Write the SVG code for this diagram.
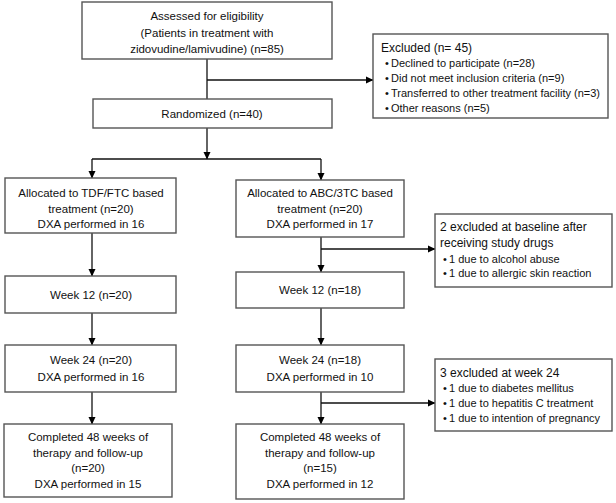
<svg xmlns="http://www.w3.org/2000/svg" width="616" height="503" viewBox="0 0 616 503">
<defs>
<marker id="ah" markerWidth="8" markerHeight="8" refX="7" refY="4" orient="auto" markerUnits="userSpaceOnUse">
<path d="M0,0.5 L7.5,4 L0,7.5 Z" fill="#000"/>
</marker>
<style>
.box{fill:#fff;stroke:#555;stroke-width:1.4}
.t{font-family:"Liberation Sans",Arial,sans-serif;font-size:11.5px;fill:#111;text-anchor:middle}
.h{font-family:"Liberation Sans",Arial,sans-serif;font-size:12px;fill:#111}
.b{font-family:"Liberation Sans",Arial,sans-serif;font-size:11px;fill:#111}
.c{stroke:#111;stroke-width:1.3;fill:none}
.a{marker-end:url(#ah)}
</style>
</defs>
<rect width="616" height="503" fill="#fff"/>
<g id="connectors">
<line class="c" x1="207" y1="59" x2="207" y2="99"/>
<line class="c a" x1="207" y1="80" x2="373" y2="80"/>
<line class="c a" x1="207" y1="128" x2="207" y2="159"/>
<line class="c" x1="92" y1="159" x2="321" y2="159"/>
<line class="c a" x1="92" y1="159" x2="92" y2="178"/>
<line class="c a" x1="321" y1="159" x2="321" y2="180"/>
<line class="c a" x1="92" y1="233" x2="92" y2="276"/>
<line class="c a" x1="92" y1="313" x2="92" y2="345"/>
<line class="c a" x1="92" y1="392" x2="92" y2="424"/>
<line class="c a" x1="321" y1="237" x2="321" y2="272"/>
<line class="c a" x1="321" y1="249" x2="435" y2="249"/>
<line class="c a" x1="321" y1="308" x2="321" y2="345"/>
<line class="c a" x1="321" y1="392" x2="321" y2="424"/>
<line class="c a" x1="321" y1="403" x2="435" y2="403"/>
</g>
<g id="assessed">
<rect class="box" x="82" y="2" width="250" height="57"/>
<text class="t" x="207" y="20">Assessed for eligibility</text>
<text class="t" x="207" y="36.5">(Patients in treatment with</text>
<text class="t" x="207" y="53">zidovudine/lamivudine) (n=85)</text>
</g>
<g id="excluded">
<rect class="box" x="373" y="34" width="235" height="84"/>
<text class="h" x="381" y="51.5">Excluded (n= 45)</text>
<text class="b" x="385" y="67">•</text><text class="b" x="391" y="67">Declined to participate (n=28)</text>
<text class="b" x="385" y="82">•</text><text class="b" x="391" y="82">Did not meet inclusion criteria (n=9)</text>
<text class="b" x="385" y="97">•</text><text class="b" x="391" y="97">Transferred to other treatment facility (n=3)</text>
<text class="b" x="385" y="112">•</text><text class="b" x="391" y="112">Other reasons (n=5)</text>
</g>
<g id="randomized">
<rect class="box" x="93" y="99" width="239" height="29"/>
<text class="t" x="212" y="117.5">Randomized (n=40)</text>
</g>
<g id="alloc-tdf">
<rect class="box" x="5" y="178" width="171" height="55"/>
<text class="t" x="91" y="197">Allocated to TDF/FTC based</text>
<text class="t" x="91" y="213">treatment (n=20)</text>
<text class="t" x="91" y="228">DXA performed in 16</text>
</g>
<g id="alloc-abc">
<rect class="box" x="236" y="180" width="168" height="57"/>
<text class="t" x="320" y="197">Allocated to ABC/3TC based</text>
<text class="t" x="320" y="213">treatment (n=20)</text>
<text class="t" x="320" y="228">DXA performed in 17</text>
</g>
<g id="excl-baseline">
<rect class="box" x="435" y="214" width="177" height="73"/>
<text class="h" x="440" y="231">2 excluded at baseline after</text>
<text class="h" x="440" y="247">receiving study drugs</text>
<text class="b" x="443" y="263">•</text><text class="b" x="449" y="263">1 due to alcohol abuse</text>
<text class="b" x="443" y="277">•</text><text class="b" x="449" y="277">1 due to allergic skin reaction</text>
</g>
<g id="w12-tdf">
<rect class="box" x="5" y="276" width="171" height="37"/>
<text class="t" x="91" y="299">Week 12 (n=20)</text>
</g>
<g id="w12-abc">
<rect class="box" x="236" y="272" width="168" height="36"/>
<text class="t" x="320" y="294">Week 12 (n=18)</text>
</g>
<g id="w24-tdf">
<rect class="box" x="5" y="345" width="171" height="47"/>
<text class="t" x="91" y="364">Week 24 (n=20)</text>
<text class="t" x="91" y="381">DXA performed in 16</text>
</g>
<g id="w24-abc">
<rect class="box" x="236" y="345" width="168" height="47"/>
<text class="t" x="320" y="364">Week 24 (n=18)</text>
<text class="t" x="320" y="381">DXA performed in 10</text>
</g>
<g id="excl-w24">
<rect class="box" x="435" y="359" width="177" height="72"/>
<text class="h" x="440" y="377">3 excluded at week 24</text>
<text class="b" x="443" y="392">•</text><text class="b" x="449" y="392">1 due to diabetes mellitus</text>
<text class="b" x="443" y="407">•</text><text class="b" x="449" y="407">1 due to hepatitis C treatment</text>
<text class="b" x="443" y="422">•</text><text class="b" x="449" y="422">1 due to intention of pregnancy</text>
</g>
<g id="done-tdf">
<rect class="box" x="4" y="424" width="168" height="73"/>
<text class="t" x="88" y="441">Completed 48 weeks of</text>
<text class="t" x="88" y="457">therapy and follow-up</text>
<text class="t" x="88" y="472">(n=20)</text>
<text class="t" x="88" y="488">DXA performed in 15</text>
</g>
<g id="done-abc">
<rect class="box" x="236" y="424" width="168" height="75"/>
<text class="t" x="320" y="441">Completed 48 weeks of</text>
<text class="t" x="320" y="457">therapy and follow-up</text>
<text class="t" x="320" y="472">(n=15)</text>
<text class="t" x="320" y="488">DXA performed in 12</text>
</g>
</svg>
